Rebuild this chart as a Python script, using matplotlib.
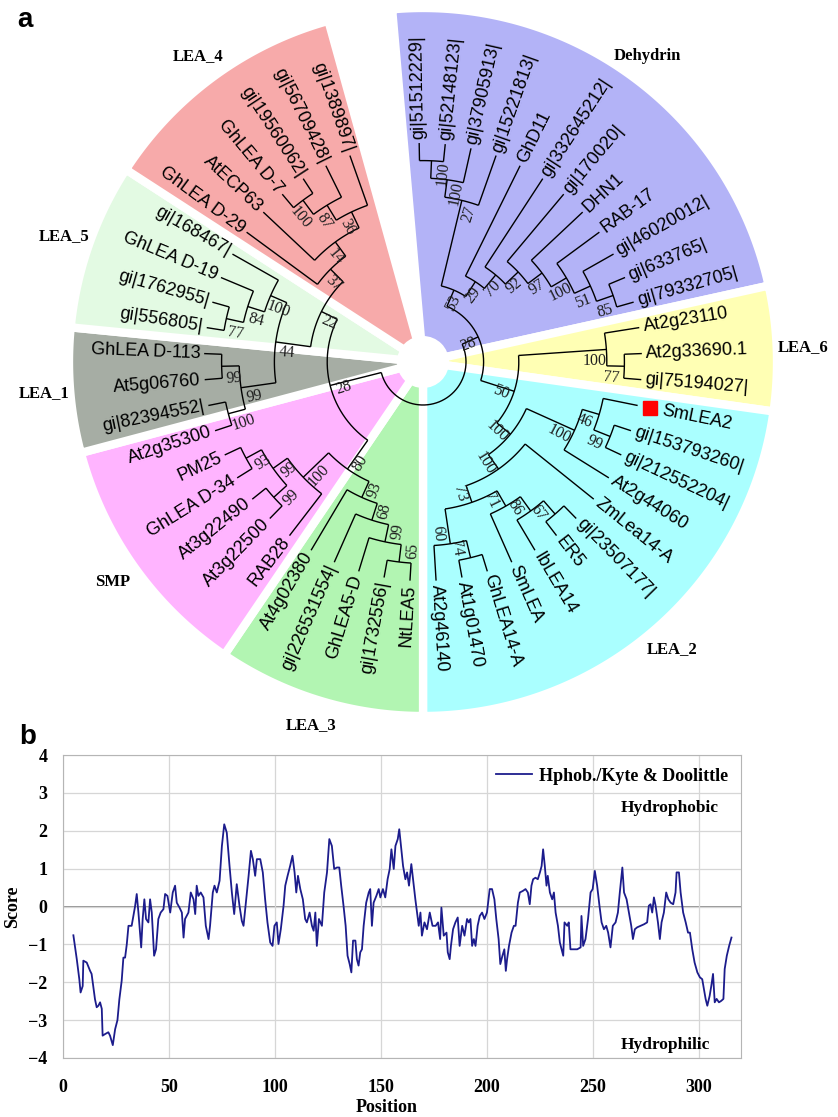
"""
Fig: (a) circular LEA family tree, (b) Kyte & Doolittle hydropathy of SmLEA2
"""
import re

import matplotlib
matplotlib.use("Agg")
import matplotlib.pyplot as plt
import numpy as np
from matplotlib.patches import Circle, Polygon

# ── data: panel a, tree in Newick (leaves listed clockwise from the top) ──
dehydrin = ("((((gi|51512229|,gi|52148123|)100,gi|37905913|)100,gi|15221813|)27,"
            "(GhD11,(gi|332645212|,(gi|170020|,(DHN1,(RAB-17,(gi|46020012|,"
            "(gi|633765|,gi|79332705|)85)51)100)97)92)70)29)53")
lea6 = "(At2g23110,(At2g33690.1,gi|75194027|)77)100"
lea2 = ("(((SmLEA2,(gi|153793260|,gi|212552204|)99)46,At2g44060)100,"
        "(ZmLea14-A,((((gi|23507177|,ER5)67,IbLEA14)86,SmLEA)71,"
        "((GhLEA14-A,At1g01470)74,At2g46140)60)73)100)100")
lea3 = "((((NtLEA5,gi|1732556|)65,GhLEA5-D)99,gi|226531554|)68,At4g02380)93"
smp = "(RAB28,((At3g22500,At3g22490)99,(GhLEA D-34,PM25)93)99)100"
lea1 = "((At2g35300,gi|82394552|)100,(At5g06760,GhLEA D-113)99)99"
lea5 = "(((gi|556805|,gi|1762955|)77,GhLEA D-19)84,gi|168467|)100"
lea4 = "(GhLEA D-29,(AtECP63,(((GhLEA D-7,gi|19560062|)100,gi|56709428|)87,gi|1389897|)36)14)37"
tree_newick = ("((" + dehydrin + ",(" + lea6 + "," + lea2 + ")50)28,((" + lea3 + "," + smp
               + ")80,((" + lea1 + "," + lea5 + ")44," + lea4 + ")22)28);")

clade_names = ["Dehydrin", "LEA_6", "LEA_2", "LEA_3", "SMP", "LEA_1", "LEA_5", "LEA_4"]
clade_sizes = [12, 3, 12, 5, 6, 3, 4, 6]
clade_colors = ["#b3b3f7", "#ffffb4", "#aaffff", "#b2f5b2", "#ffb4ff", "#a6ada4", "#e3fae3", "#f7aaaa"]
marked_leaf = "SmLEA2"

# ── data: panel b, hydropathy profile ──
position = [
    4.9, 6.5, 7.7, 8.3, 9.3, 9.6, 11.2, 12.8, 13.5, 15.1, 15.9, 16.7, 17.5, 18.3, 18.7, 19.8,
    21.4, 22.2, 23.5, 24.6, 25.7, 26.6, 27.7, 28.5, 29.3, 30.1, 30.9, 32.4, 33.2, 34.0, 34.8,
    35.6, 36.9, 37.6, 38.4, 39.2, 40.3, 41.1, 41.9, 43.0, 43.9, 45.0, 46.1, 47.4, 48.2, 49.3,
    50.6, 51.8, 52.9, 53.7, 55.0, 56.1, 56.9, 57.6, 59.2, 60.3, 61.6, 62.4, 63.1, 63.9, 65.0,
    66.3, 67.4, 68.7, 69.4, 70.7, 71.5, 72.6, 73.9, 75.0, 76.1, 77.3, 78.6, 79.7, 80.8, 82.0,
    83.3, 84.4, 85.2, 86.5, 87.6, 88.7, 89.6, 90.7, 91.5, 93.1, 94.3, 95.4, 96.5, 97.8, 98.9,
    99.8, 100.9, 101.7, 102.8, 104.1, 104.9, 106.0, 107.2, 108.3, 109.3, 110.1, 110.9, 112.0,
    113.2, 114.3, 115.1, 116.4, 117.5, 118.3, 119.1, 119.8, 120.8, 122.2, 123.3, 124.6, 125.7,
    126.9, 128.0, 129.3, 130.4, 131.3, 132.4, 133.4, 134.3, 135.3, 136.1, 136.9, 138.0, 138.7,
    139.5, 140.3, 141.1, 141.9, 143.1, 144.3, 145.0, 145.8, 146.6, 147.9, 149.0, 149.8, 151.0,
    152.1, 153.2, 154.2, 155.0, 156.1, 156.9, 158.0, 158.7, 159.5, 160.5, 161.6, 162.4, 163.3,
    164.4, 165.2, 166.3, 167.1, 167.9, 168.7, 169.4, 170.6, 171.8, 173.1, 174.4, 175.9, 177.0,
    178.0, 178.6, 179.7, 181.0, 181.6, 182.5, 183.1, 184.1, 185.2, 186.3, 187.2, 188.4, 189.5,
    190.7, 191.5, 192.3, 193.1, 193.9, 194.7, 195.7, 196.7, 197.8, 198.9, 200.1, 201.4, 202.5,
    203.6, 204.5, 205.6, 206.4, 207.4, 208.3, 209.0, 209.6, 210.5, 211.7, 212.8, 213.6, 214.7,
    215.6, 217.0, 218.3, 219.4, 220.3, 221.1, 221.9, 223.0, 224.1, 225.1, 225.9, 226.6, 227.4,
    228.2, 228.8, 229.8, 230.9, 231.7, 232.5, 233.6, 234.5, 235.3, 236.1, 236.7, 238.0, 238.7,
    239.5, 241.1, 242.7, 244.3, 244.7, 245.5, 246.6, 247.8, 249.0, 250.0, 251.0, 252.1, 253.2,
    254.2, 255.3, 256.4, 257.3, 258.4, 259.5, 260.8, 261.9, 262.8, 264.0, 264.8, 266.0, 267.1,
    268.2, 269.0, 269.9, 271.0, 272.6, 274.2, 275.7, 276.5, 277.3, 278.1, 278.9, 279.7, 280.8,
    281.7, 282.5, 283.6, 284.7, 285.7, 286.8, 288.0, 289.1, 289.6, 290.7, 291.5, 292.7, 293.9,
    295.0, 295.9, 297.0, 298.1, 299.4, 300.6, 301.7, 302.5, 303.3, 304.1, 305.2, 306.0, 306.8,
    307.6, 308.5, 309.6, 310.7, 311.7, 312.3, 313.3, 314.4, 315.5,
]
score = [
    -0.76, -1.39, -1.92, -2.27, -2.10, -1.43, -1.48, -1.70, -1.78, -2.45, -2.66, -2.62, -2.53,
    -2.70, -3.41, -3.37, -3.32, -3.41, -3.66, -3.24, -3.00, -2.45, -1.96, -1.35, -1.35, -1.00,
    -0.51, -0.51, -0.25, 0.00, 0.33, -0.16, -1.08, -0.33, 0.19, -0.33, -0.42, 0.19, -0.16,
    -1.30, -1.13, -0.33, -0.16, -0.07, 0.33, 0.28, -0.16, 0.37, 0.55, 0.10, -0.03, -0.16,
    -0.82, -0.33, -0.16, 0.37, 0.19, -0.20, 0.55, 0.28, 0.37, 0.24, -0.51, -0.86, -0.51, 0.37,
    0.55, 0.37, 0.68, 1.60, 2.17, 1.95, 1.07, 0.37, -0.20, 0.59, 0.02, -0.38, -0.51, 0.19,
    0.81, 1.47, 1.25, 0.81, 1.25, 1.25, 0.90, 0.19, -0.42, -0.95, -1.04, -0.51, -0.42, -0.99,
    -0.60, 0.02, 0.55, 0.81, 1.07, 1.34, 0.90, 0.37, 0.81, 0.46, 0.19, -0.33, -0.42, -0.16,
    -0.51, -0.64, -0.16, -1.04, -0.33, -0.51, 0.37, 0.90, 1.78, 1.60, 0.99, 1.03, 1.03, 0.55,
    0.02, -0.51, -1.30, -1.52, -1.74, -0.90, -0.90, -1.39, -1.56, -1.21, -1.13, -0.51, 0.10,
    0.37, 0.46, -0.51, 0.10, 0.28, 0.46, 0.24, 0.46, 0.24, 0.72, 0.99, 1.51, 0.99, 1.60, 1.78,
    2.04, 1.60, 1.07, 0.72, 0.90, 0.55, 1.12, 0.72, 0.19, -0.16, -0.51, -0.16, -0.77, -0.42,
    -0.60, -0.16, -0.51, -0.51, -0.42, -0.86, -0.03, -0.77, -0.69, -1.21, -1.39, -1.04, -0.60,
    -0.42, -0.29, -1.04, -0.51, -0.77, -0.33, -0.42, -0.33, -1.04, -0.86, -1.04, -0.51, -0.25,
    -0.16, -0.33, -0.16, 0.46, 0.46, 0.19, -0.33, -0.86, -1.52, -1.30, -1.13, -1.70, -1.39,
    -1.04, -0.69, -0.51, -0.51, 0.10, 0.37, 0.41, 0.46, 0.37, 0.06, 0.55, 0.72, 0.76, 0.72,
    0.90, 1.07, 1.51, 1.07, 0.55, 0.81, 0.37, 0.19, 0.37, -0.16, -0.51, -0.95, -1.13, -1.30,
    -0.42, -0.51, -0.42, -1.13, -1.13, -1.13, -1.08, -0.25, -1.04, -0.86, -0.33, 0.37, 0.46,
    0.94, 0.55, 0.02, -0.42, -0.60, -0.51, -0.69, -1.08, -0.51, -0.42, -0.16, 0.37, 1.03, 0.37,
    0.19, -0.16, -0.51, -0.86, -0.60, -0.55, -0.51, -0.47, -0.42, 0.02, 0.06, -0.16, 0.24,
    0.02, -0.42, -0.86, -0.42, -0.16, 0.37, 0.19, 0.10, 0.06, 0.37, 0.90, 0.90, 0.37, -0.16,
    -0.42, -0.69, -0.69, -1.13, -1.48, -1.74, -1.87, -1.92, -2.18, -2.44, -2.62, -2.36, -2.09,
    -1.78, -2.53, -2.44, -2.53, -2.49, -2.44, -1.65, -1.30, -1.04, -0.82,
]

SERIF = "Liberation Serif"
SANS = "Liberation Sans"
W, H = 838, 1117
TREE_H = 730
CX, CY = 423, 362          # tree centre (px)
R_TIP = 219                # aligned leaf tips
STEP = 17.6                # px per tree level
A0, DA = 91.0, -6.83       # first leaf angle, spacing (deg)
R_OUT = 354


def parse_newick(s):
    pos = 0

    def node():
        nonlocal pos
        if s[pos] == "(":
            pos += 1
            kids = [node()]
            while s[pos] == ",":
                pos += 1
                kids.append(node())
            pos += 1
            lab = re.match(r"[^,();]*", s[pos:]).group(0)
            pos += len(lab)
            return {"kids": kids, "bs": lab}
        name = re.match(r"[^,();]+", s[pos:]).group(0)
        pos += len(name)
        return {"name": name}

    return node()


leaves = []


def layout(n):
    if "kids" not in n:
        n["h"] = 0
        n["ang"] = A0 + DA * len(leaves)
        leaves.append(n)
    else:
        for k in n["kids"]:
            layout(k)
        n["h"] = max(k["h"] for k in n["kids"]) + 1
        n["ang"] = (n["kids"][0]["ang"] + n["kids"][-1]["ang"]) / 2
    n["r"] = R_TIP - STEP * n["h"]


def xy(r, a):
    t = np.radians(a)
    return CX + r * np.cos(t), CY - r * np.sin(t)


def right_side(a):
    a = (a + 180) % 360 - 180
    return -90 <= a < 100


def draw(ax, n):
    if "kids" not in n:
        return
    a1, a2 = n["kids"][0]["ang"], n["kids"][-1]["ang"]
    t = np.linspace(a1, a2, max(2, int(abs(a1 - a2) * 3)))
    ax.plot(*xy(n["r"], t), color="black", lw=1.0, zorder=3, solid_capstyle="butt")
    for k in n["kids"]:
        ax.plot(*xy(np.array([n["r"], k["r"]]), k["ang"]), color="black", lw=1.0, zorder=3,
                solid_capstyle="butt")
        draw(ax, k)
    if n["bs"]:
        rs = right_side(n["ang"])
        a = n["ang"] + (-3.6 if rs else 3.6)
        bx, by = xy(n["r"] - 12, a)
        ax.text(bx, by, n["bs"], fontsize=11.5, family=SERIF, fontweight="normal",
                color="#1e1e1e", rotation=a if rs else a - 180, ha="center", va="center",
                rotation_mode="anchor", zorder=4)


def main():
    plt.rcParams["font.family"] = SERIF
    plt.rcParams["font.weight"] = "bold"

    root = parse_newick(tree_newick)
    layout(root)

    fig = plt.figure(figsize=(W / 100, H / 100), dpi=100)

    # ── panel a ──
    ax = fig.add_axes([0, 1 - TREE_H / H, 1, TREE_H / H])
    ax.set_xlim(0, W)
    ax.set_ylim(TREE_H, 0)
    ax.axis("off")

    ang = [lf["ang"] for lf in leaves]
    i0 = 0
    for k, (name, n, col) in enumerate(zip(clade_names, clade_sizes, clade_colors)):
        a1 = ang[i0] - DA / 2 if k > 0 else ang[i0] + 4
        a2 = ang[i0 + n - 1] + DA / 2 if k < len(clade_sizes) - 1 else ang[i0 + n - 1] - 4
        t = np.linspace(a1, a2, 120)
        px, py = xy(R_OUT, t)
        ax.add_patch(Polygon(np.column_stack([np.r_[CX, px], np.r_[CY, py]]), closed=True,
                             fc=col, ec="white", lw=6, zorder=1))
        lx, ly = xy(380, (a1 + a2) / 2)
        ax.text(lx, ly, name, fontsize=12, fontweight="bold", ha="center", va="center")
        i0 += n
    ax.add_patch(Circle((CX, CY), 26, fc="white", ec="none", zorder=2))

    draw(ax, root)

    for lf in leaves:
        a = lf["ang"]
        rs = right_side(a)
        r_lab = R_TIP + 4
        if lf["name"] == marked_leaf:
            ax.plot(*xy(232, a), marker="s", ms=10, color="#ff0000", mec="#ff0000", zorder=4)
            r_lab = 244
        tx, ty = xy(r_lab, a)
        ax.text(tx, ty, lf["name"], fontsize=13, family=SANS, fontweight="normal",
                rotation=a if rs else a - 180, rotation_mode="anchor",
                ha="left" if rs else "right", va="center", zorder=4)

    fig.text(17 / W, 1 - 20 / H, "a", family=SANS, fontsize=20, fontweight="bold",
             ha="left", va="center")
    fig.text(19 / W, 1 - 737 / H, "b", family=SANS, fontsize=20, fontweight="bold",
             ha="left", va="center")

    # ── panel b ──
    axb = fig.add_axes([63 / W, 1 - 1058 / H, 678 / W, 303 / H])
    axb.plot(position, score, color="#1c1c8c", lw=1.3, label="Hphob./Kyte & Doolittle")
    axb.set_xlim(0, 320)
    axb.set_ylim(-4, 4)
    axb.set_xticks(range(0, 301, 50))
    axb.set_yticks(range(-4, 5))
    axb.grid(color="#d6d6d6", lw=0.9)
    axb.axhline(0, color="#8a8a8a", lw=1.3, zorder=1)
    axb.tick_params(axis="both", length=0, labelsize=13)
    axb.tick_params(axis="x", pad=15)
    axb.tick_params(axis="y", pad=11)
    for s in axb.spines.values():
        s.set_color("#b5b5b5")
    axb.set_xlabel("Position", fontsize=13, fontweight="bold")
    axb.xaxis.set_label_coords(0.478, -0.135)
    axb.set_ylabel("Score", fontsize=13, fontweight="bold")
    axb.yaxis.set_label_coords(-0.062, 0.5)
    axb.legend(loc="upper right", frameon=False, fontsize=13, handlelength=2.0,
               handletextpad=0.4, borderaxespad=0.3)
    axb.text(0.822, 0.825, "Hydrophobic", transform=axb.transAxes, fontsize=12.5,
             ha="left", va="center")
    axb.text(0.822, 0.043, "Hydrophilic", transform=axb.transAxes, fontsize=12.5,
             ha="left", va="center")

    fig.savefig("out.png", dpi=100)
    plt.close(fig)


if __name__ == "__main__":
    main()
